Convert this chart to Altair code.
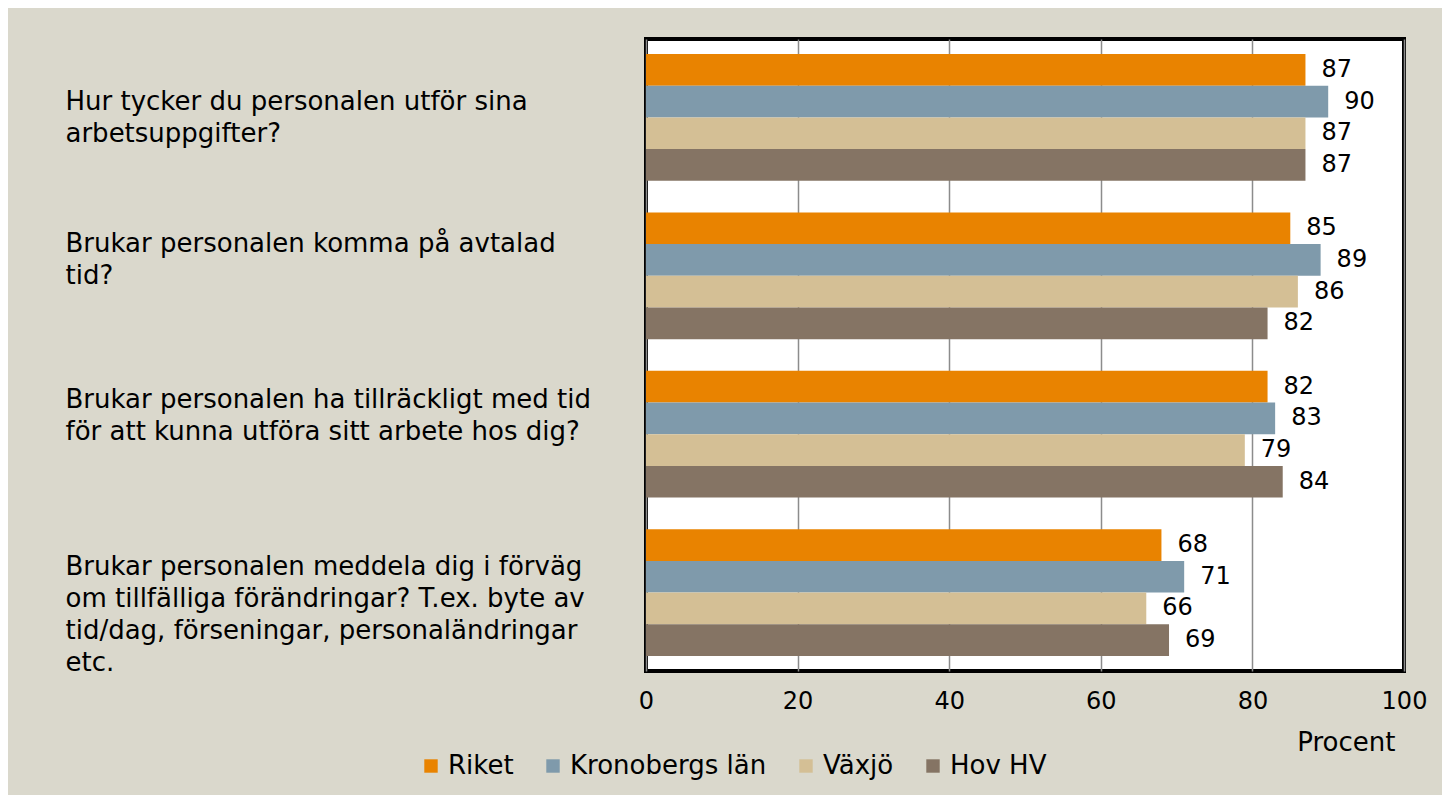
import altair as alt
import pandas as pd

questions = [
    "Hur tycker du personalen utför sina|arbetsuppgifter?",
    "Brukar personalen komma på avtalad|tid?",
    "Brukar personalen ha tillräckligt med tid|för att kunna utföra sitt arbete hos dig?",
    "Brukar personalen meddela dig i förväg|om tillfälliga förändringar? T.ex. byte av|tid/dag, förseningar, personaländringar|etc.",
]
series = ["Riket", "Kronobergs län", "Växjö", "Hov HV"]
colors = ["#E98300", "#7F9AAB", "#D4BF95", "#857464"]
riket = [87, 85, 82, 68]
kronoberg = [90, 89, 83, 71]
vaxjo = [87, 86, 79, 66]
hov = [87, 82, 84, 69]
label_offsets = [-15, -32, -34, -26]

rows = []
for i, q in enumerate(questions):
    for s, vals in zip(series, [riket, kronoberg, vaxjo, hov]):
        rows.append({"fråga": q, "serie": s, "värde": vals[i]})
df = pd.DataFrame(rows)

FONT = "DejaVu Sans"

q_list = "[" + ",".join("'" + q + "'" for q in questions) + "]"
off_list = "[" + ",".join(str(o) for o in label_offsets) + "]"

y_enc = alt.Y(
    "fråga:N",
    sort=questions,
    scale=alt.Scale(paddingInner=0.2, paddingOuter=0.095),
    axis=alt.Axis(
        title=None,
        labelExpr="split(datum.label, '|')",
        labelAlign="left",
        labelBaseline="middle",
        labelPadding=581,
        labelLimit=620,
        labelFont=FONT,
        labelFontSize=26,
        labelColor="#000000",
        labelLineHeight=32,
        labelOffset=alt.ExprRef(f"{off_list}[indexof({q_list}, datum.value)]"),
        ticks=False,
        domain=False,
    ),
)

x_enc = alt.X(
    "värde:Q",
    scale=alt.Scale(domain=[0, 100], nice=False),
    axis=alt.Axis(
        values=[0, 20, 40, 60, 80, 100],
        title="Procent",
        titleFont=FONT,
        titleFontSize=26,
        titleFontWeight="normal",
        titleColor="#000000",
        titleAlign="right",
        titleAnchor="end",
        titleBaseline="middle",
        titleX=749,
        titleY=71,
        labelFont=FONT,
        labelFontSize=24,
        labelColor="#000000",
        labelPadding=18,
        labelFlush=False,
        ticks=False,
        domain=False,
        grid=True,
        gridColor="#8C8C8C",
        gridWidth=1.5,
    ),
)

yoff = alt.YOffset("serie:N", sort=series, scale=alt.Scale(paddingInner=0, paddingOuter=0))

bars = alt.Chart(df).mark_bar(stroke=None).encode(
    x=x_enc,
    y=y_enc,
    yOffset=yoff,
    color=alt.Color(
        "serie:N",
        sort=series,
        scale=alt.Scale(domain=series, range=colors),
        legend=alt.Legend(
            title=None,
            orient="none",
            direction="horizontal",
            legendX=-228,
            legendY=714,
            symbolType="square",
            symbolSize=180,
            symbolStrokeWidth=0,
            labelFont=FONT,
            labelFontSize=26,
            labelLimit=400,
            labelColor="#000000",
            labelOffset=4,
            columnPadding=26,
        ),
    ),
)

labels = alt.Chart(df).mark_text(
    align="left", baseline="middle", dx=16, font=FONT, fontSize=24, color="#000000"
).encode(
    x=alt.X("värde:Q"),
    y=alt.Y("fråga:N", sort=questions),
    yOffset=yoff,
    text=alt.Text("värde:Q"),
)

chart = (
    alt.layer(bars, labels)
    .properties(
        width=758,
        height=632,
        background="#DAD8CC",
        padding={"left": 638, "top": 31, "right": 38, "bottom": 124},
        autosize=alt.AutoSizeParams(type="none"),
    )
    .configure_view(fill="#FFFFFF", stroke="#000000", strokeWidth=4)
)

chart.save("out.html", embed_options={"renderer": "svg", "actions": False})
